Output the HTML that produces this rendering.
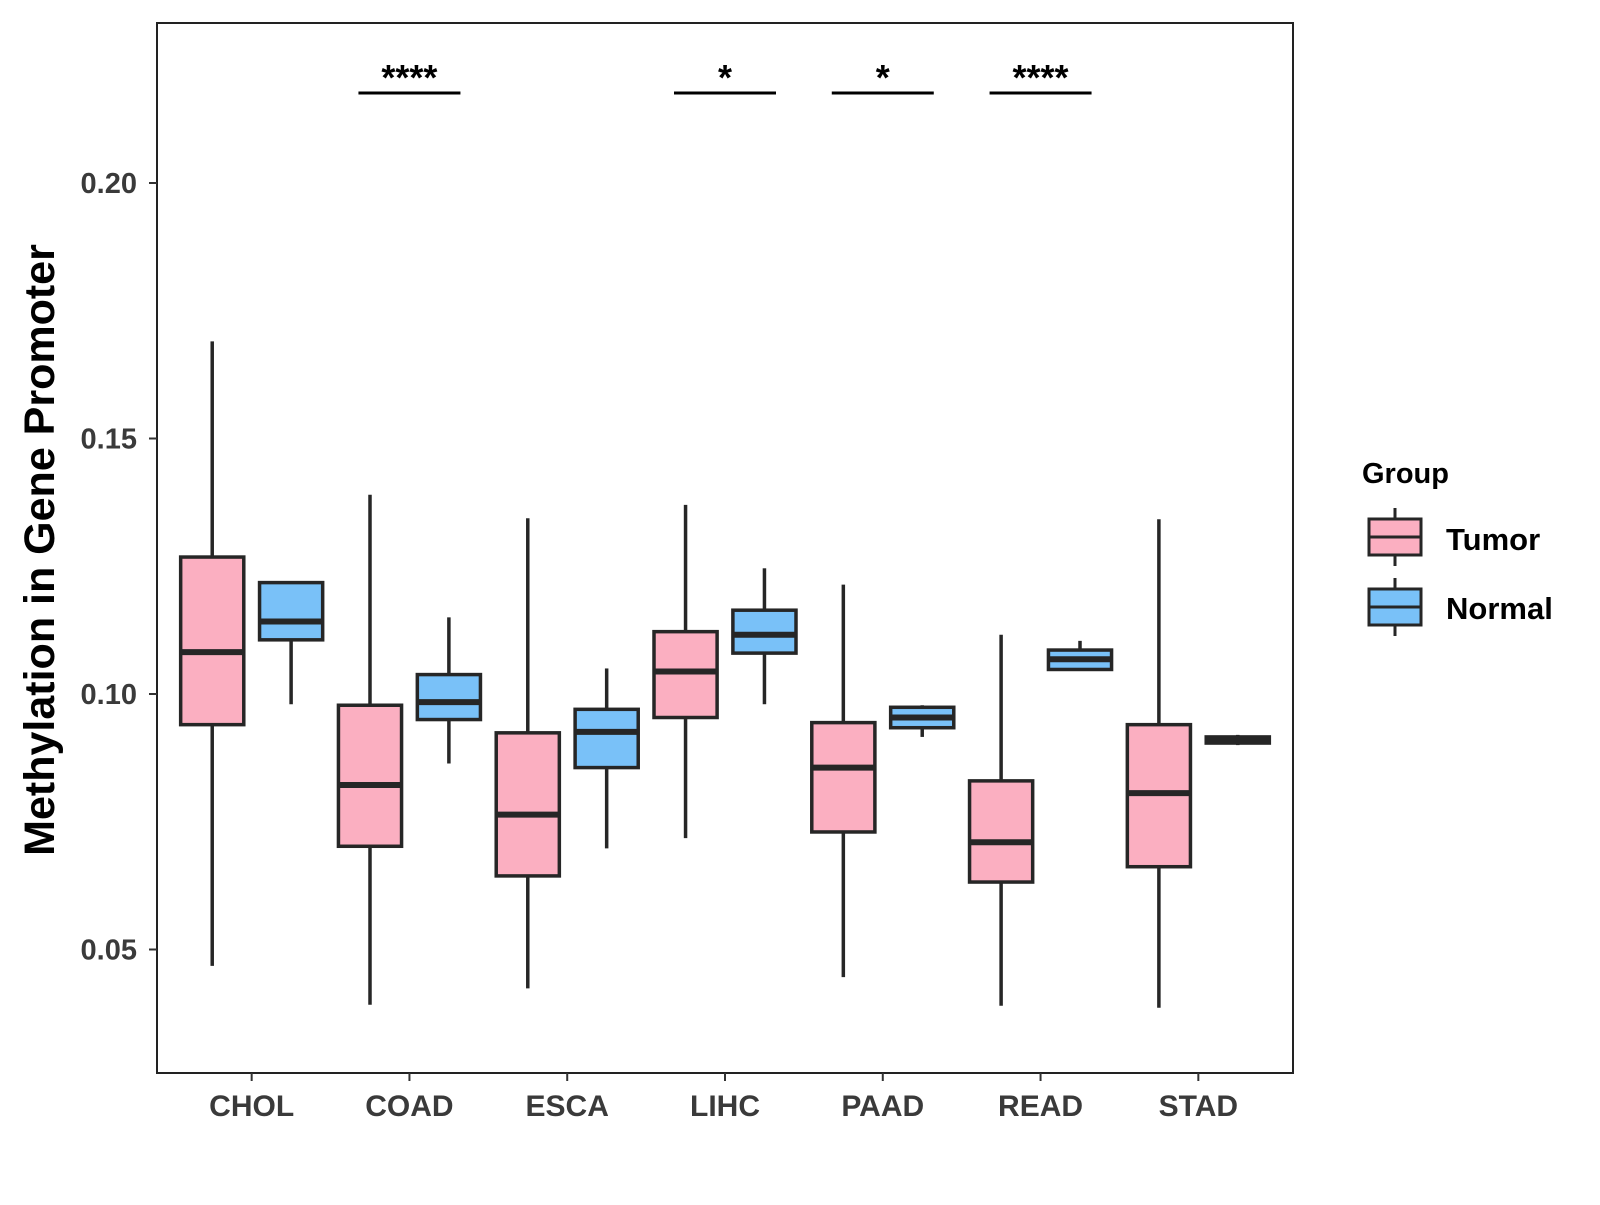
<!DOCTYPE html>
<html><head><meta charset="utf-8"><style>
html,body{margin:0;padding:0;background:#fff;}
svg text{font-family:"Liberation Sans",Arial,sans-serif;font-weight:bold;}
</style></head><body>
<svg id="chart" width="1600" height="1200" viewBox="0 0 1600 1200" xmlns="http://www.w3.org/2000/svg">
<rect x="0" y="0" width="1600" height="1200" fill="#fff"/>
<g id="marks"></g>
<rect x="157" y="23" width="1136" height="1050" fill="none" stroke="#222" stroke-width="2"/>
<g id="axes"></g>
<text transform="translate(54,550) rotate(-90)" text-anchor="middle" font-size="43" fill="#000">Methylation in Gene Promoter</text>
<g>
<text x="1362" y="483" font-size="29" fill="#000">Group</text>
<g>
<line x1="1395" y1="508" x2="1395" y2="566" stroke="#262626" stroke-width="3"/>
<rect x="1369" y="519" width="52" height="36" fill="#FBAFC1" stroke="#262626" stroke-width="3"/>
<line x1="1369" y1="537" x2="1421" y2="537" stroke="#262626" stroke-width="3"/>
<text x="1446" y="550" font-size="31" fill="#000">Tumor</text>
</g>
<g>
<line x1="1395" y1="578" x2="1395" y2="636" stroke="#262626" stroke-width="3"/>
<rect x="1369" y="589" width="52" height="36" fill="#79C1F8" stroke="#262626" stroke-width="3"/>
<line x1="1369" y1="607" x2="1421" y2="607" stroke="#262626" stroke-width="3"/>
<text x="1446" y="619" font-size="31" fill="#000">Normal</text>
</g>
</g>
</svg>
<script>
const categories = ["CHOL","COAD","ESCA","LIHC","PAAD","READ","STAD"];
// [low, q1, median, q3, high]
const tumorStats = [
 [0.0468,0.0940,0.1082,0.1268,0.1690],
 [0.0392,0.0702,0.0822,0.0978,0.1390],
 [0.0424,0.0644,0.0764,0.0924,0.1344],
 [0.0718,0.0954,0.1044,0.1122,0.1370],
 [0.0446,0.0730,0.0856,0.0944,0.1214],
 [0.0390,0.0632,0.0710,0.0830,0.1116],
 [0.0386,0.0662,0.0806,0.0940,0.1342]
];
const normalStats = [
 [0.0980,0.1106,0.1142,0.1218,0.1218],
 [0.0864,0.0950,0.0984,0.1038,0.1150],
 [0.0698,0.0856,0.0926,0.0970,0.1050],
 [0.0980,0.1080,0.1116,0.1164,0.1246],
 [0.0916,0.0934,0.0954,0.0974,0.0978],
 [0.1048,0.1048,0.1068,0.1086,0.1104],
 [0.0900,0.0904,0.0910,0.0916,0.0920]
];
const significance = ["","****","","*","*","****",""];
const yTicks = [0.05,0.10,0.15,0.20];
const yTickLabels = ["0.05","0.10","0.15","0.20"];

const NS="http://www.w3.org/2000/svg";
const panelL=157, panelR=1293, step=(panelR-panelL)/7.2;
function xScale(i){return panelL+step*(0.6+i);}
function yScale(v){return 183+(0.20-v)*5110;}
function mk(tag,attrs,parent){const e=document.createElementNS(NS,tag);for(const k in attrs)e.setAttribute(k,attrs[k]);parent.appendChild(e);return e;}
const marks=document.getElementById('marks'), axes=document.getElementById('axes');
const bw=step*0.4, off=step*0.25, ink="#262626";

function drawBox(i,s,fill,name,dx){
  const cx=xScale(i)+dx;
  const g=mk('g',{},marks);
  
  
  mk('line',{x1:cx,x2:cx,y1:yScale(s[4]),y2:yScale(s[3]),stroke:ink,'stroke-width':3.5},g);
  mk('line',{x1:cx,x2:cx,y1:yScale(s[1]),y2:yScale(s[0]),stroke:ink,'stroke-width':3.5},g);
  mk('rect',{x:cx-bw/2,y:yScale(s[3]),width:bw,height:Math.max(yScale(s[1])-yScale(s[3]),1),fill:fill,stroke:ink,'stroke-width':3.5},g);
  mk('line',{x1:cx-bw/2,x2:cx+bw/2,y1:yScale(s[2]),y2:yScale(s[2]),stroke:ink,'stroke-width':6},g);
}
categories.forEach((c,i)=>{
  drawBox(i,tumorStats[i],"#FBAFC1","box-tumor-"+c.toLowerCase(),-off);
  drawBox(i,normalStats[i],"#79C1F8","box-normal-"+c.toLowerCase(),off);
  if(significance[i]){
    const cx=xScale(i);
    const g=mk('g',{},marks);
    
    
    mk('line',{x1:cx-51,x2:cx+51,y1:93,y2:93,stroke:"#000",'stroke-width':3},g);
    const t=mk('text',{x:cx,y:90,'text-anchor':'middle','font-size':36,fill:"#000"},g);
    t.textContent=significance[i];
  }
  const tk=mk('line',{x1:xScale(i),x2:xScale(i),y1:1073,y2:1081,stroke:"#333",'stroke-width':2},axes);
  
  
  const lb=mk('text',{x:xScale(i),y:1116,'text-anchor':'middle','font-size':30,fill:"#3a3a3a"},axes);
  
  
  lb.textContent=c;
});
yTicks.forEach((v,i)=>{
  const tk=mk('line',{x1:149,x2:157,y1:yScale(v),y2:yScale(v),stroke:"#333",'stroke-width':2},axes);
  
  
  const lb=mk('text',{x:137,y:yScale(v)+10,'text-anchor':'end','font-size':29,fill:"#3a3a3a"},axes);
  
  
  lb.textContent=yTickLabels[i];
});
</script>
</body></html>
